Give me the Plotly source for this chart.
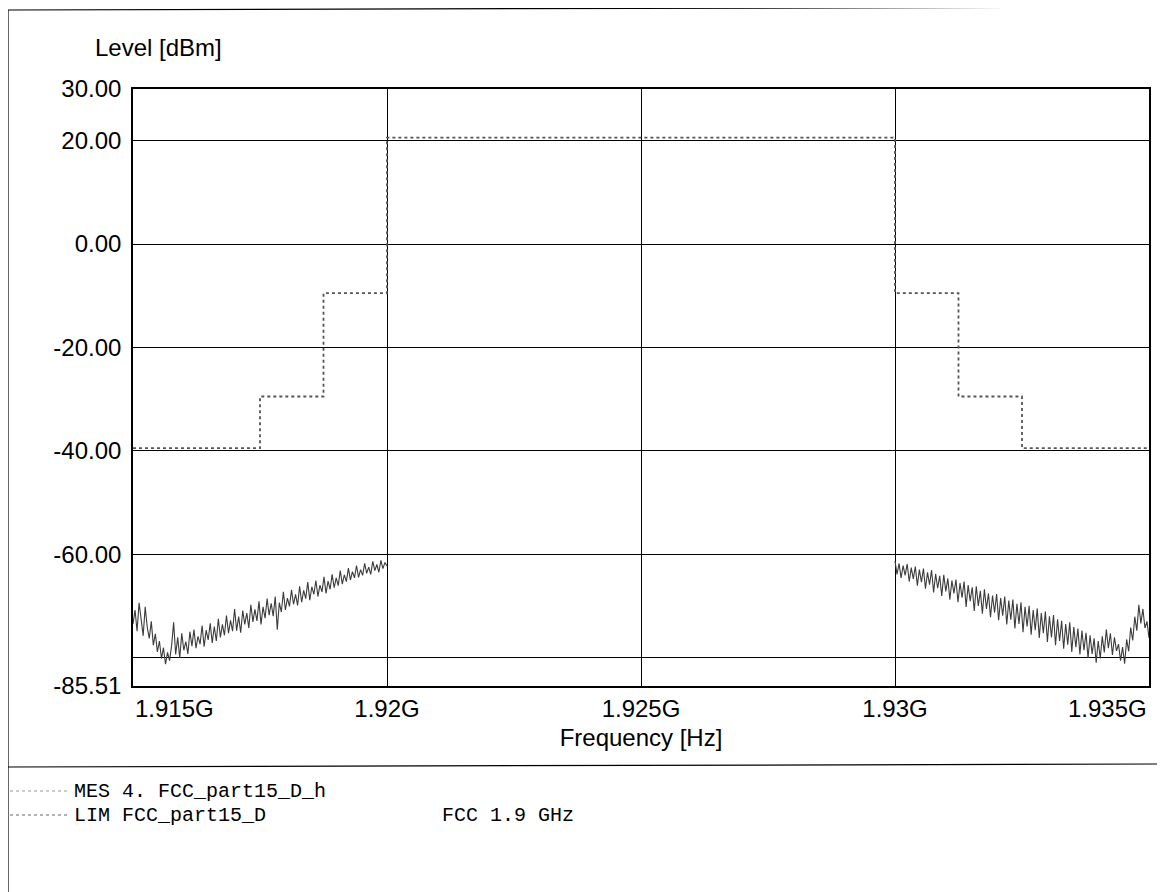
import numpy as np
import plotly.graph_objects as go

# ---------------- data ----------------
# Limit line FCC_part15_D (step function), frequencies in Hz, levels in dBm
lim_freq = [1.915e9, 1.9175e9, 1.91875e9, 1.920e9, 1.930e9, 1.93125e9, 1.9325e9, 1.935e9]
lim_level = [-39.5, -29.5, -9.5, 20.6, -9.5, -29.5, -39.5, -39.5]

# Measured trace (MES) - lower side sweep 1.915 .. 1.920 GHz
mes_low_start, mes_low_stop = 1.915e9, 1.920e9
mes_low = [
    -73.5, -70.8, -74.9, -69.4, -72.6, -75.8, -70.2, -74.1, -76.3, -73.0,
    -77.6, -75.4, -78.9, -76.8, -80.2, -78.1, -81.3, -79.0, -80.6, -77.7,
    -73.2, -79.4, -76.1, -80.1, -75.3, -78.6, -76.9, -79.3, -75.0, -77.8,
    -74.6, -78.2, -75.9, -77.4, -73.8, -77.9, -74.7, -76.6, -73.4, -77.2,
    -74.0, -76.8, -72.5, -76.1, -73.6, -75.7, -71.9, -75.3, -72.8, -74.9,
    -70.6, -74.8, -72.1, -75.2, -70.9, -73.6, -71.4, -74.3, -69.8, -73.1,
    -70.7, -72.9, -69.1, -73.6, -70.2, -72.4, -68.6, -71.8, -69.5, -72.0,
    -68.2, -74.6, -69.4, -71.2, -67.3, -70.8, -68.5, -70.1, -66.9, -69.7,
    -67.8, -69.9, -66.2, -69.3, -67.0, -68.6, -65.4, -68.9, -66.3, -67.8,
    -65.1, -68.2, -66.0, -67.3, -64.4, -67.6, -65.2, -66.8, -63.9, -66.5,
    -64.6, -66.1, -63.2, -65.8, -64.0, -65.3, -62.7, -65.0, -63.4, -64.6,
    -62.2, -64.5, -63.0, -64.1, -61.8, -63.7, -62.5, -63.9, -61.4, -63.2,
    -62.0, -63.5, -61.2, -62.8, -61.6, -62.3,
]

# Measured trace (MES) - upper side sweep 1.930 .. 1.935 GHz
mes_high_start, mes_high_stop = 1.930e9, 1.935e9
mes_high = [
    -61.3, -63.9, -61.8, -64.6, -62.2, -64.1, -61.9, -65.3, -62.6, -64.8,
    -62.4, -66.1, -63.0, -65.4, -62.8, -66.7, -63.5, -65.9, -63.1, -67.4,
    -63.8, -66.6, -64.2, -68.1, -64.0, -67.2, -64.7, -68.8, -65.1, -67.6,
    -64.9, -69.3, -65.6, -68.4, -65.3, -70.2, -66.0, -69.1, -66.4, -71.0,
    -66.2, -70.0, -67.1, -71.5, -66.8, -70.6, -67.6, -72.2, -68.0, -71.3,
    -67.7, -72.8, -68.5, -71.9, -68.2, -73.6, -69.0, -72.7, -68.8, -74.4,
    -69.6, -73.5, -69.3, -75.1, -70.2, -74.0, -70.0, -75.6, -70.8, -74.7,
    -70.5, -76.2, -71.4, -75.3, -71.1, -77.0, -72.0, -76.1, -71.8, -77.6,
    -72.6, -76.8, -72.9, -78.3, -73.5, -77.5, -73.2, -78.9, -74.1, -78.0,
    -74.4, -79.4, -74.8, -78.6, -75.2, -80.1, -75.7, -79.3, -76.3, -81.0,
    -76.8, -80.2, -75.9, -79.0, -74.6, -78.2, -75.3, -79.5, -76.1, -78.7,
    -77.4, -80.6, -78.0, -81.2, -76.5, -78.8, -74.2, -76.7, -72.1, -74.8,
    -69.8, -73.4, -70.6, -74.3, -73.0, -76.2,
]

x_tick_vals = [1.920e9, 1.925e9, 1.930e9]
x_tick_text = ["1.92G", "1.925G", "1.93G"]
x_edge_labels = [(1.915e9, "1.915G", "left"), (1.935e9, "1.935G", "right")]
y_tick_vals = [30, 20, 0, -20, -40, -60, -85.51]
y_tick_text = ["30.00", "20.00", "0.00", "-20.00", "-40.00", "-60.00", "-85.51"]
y_min, y_max = -85.51, 30.0

# sweep grids
f_low = np.linspace(mes_low_start, mes_low_stop, len(mes_low))
f_high = np.linspace(mes_high_start, mes_high_stop, len(mes_high))

# ---------------- figure ----------------
# page has an 8px body margin, so the figure is 8px smaller and shifted
OFF = 8
W, H = 1165 - OFF, 892 - OFF
PL, PR, PT, PB = 133, 1149, 89, 686          # plot area in screenshot pixels
L, T = PL - OFF, PT - OFF
R, B = W - (PR - OFF), H - (PB - OFF)
pw, ph = PR - PL, PB - PT


def px(p):
    return (p - PL) / pw


def py(q):
    return (PB - q) / ph


fig = go.Figure()

mes_style = dict(color="#3c3c3c", width=1.1)
fig.add_trace(go.Scatter(x=f_low, y=mes_low, mode="lines", line=mes_style,
                         showlegend=False, hoverinfo="skip"))
fig.add_trace(go.Scatter(x=f_high, y=mes_high, mode="lines", line=mes_style,
                         showlegend=False, hoverinfo="skip"))
fig.add_trace(go.Scatter(x=lim_freq, y=lim_level, mode="lines", line_shape="hv",
                         line=dict(color="#555555", width=1.8, dash="dot"),
                         showlegend=False, hoverinfo="skip"))

sans = "Liberation Sans, Arial, sans-serif"
mono = "Liberation Mono, Courier New, monospace"

fig.update_layout(
    width=W, height=H,
    margin=dict(l=L, r=R, t=T, b=B),
    paper_bgcolor="white", plot_bgcolor="white",
    font=dict(family=sans, size=24, color="black"),
    showlegend=False,
)
fig.update_xaxes(
    range=[1.915e9, 1.935e9],
    tickvals=x_tick_vals, ticktext=x_tick_text,
    ticks="",
    showgrid=True, gridcolor="black", gridwidth=1.3,
    showline=True, linecolor="black", linewidth=1.6, mirror=True,
    zeroline=False,
    title=dict(text="Frequency [Hz]", font=dict(size=24), standoff=9),
    tickfont=dict(size=24),
)
fig.update_yaxes(
    range=[y_min, y_max],
    tickvals=y_tick_vals, ticktext=y_tick_text,
    ticks="outside", ticklen=5, tickcolor="rgba(0,0,0,0)",
    showgrid=True, gridcolor="black", gridwidth=1.3,
    minor=dict(tickvals=[-80], showgrid=True, gridcolor="black", gridwidth=1.3, ticks=""),
    showline=True, linecolor="black", linewidth=1.6, mirror=True,
    zeroline=False,
    tickfont=dict(size=24),
)

annotations = []
for xv, txt, anc in x_edge_labels:
    annotations.append(dict(x=xv, y=0, xref="x", yref="paper", text=txt,
                            showarrow=False, xanchor=anc, yanchor="top",
                            yshift=-7, font=dict(size=24)))
annotations.append(dict(x=px(93), y=py(48), xref="paper", yref="paper",
                        text="Level [dBm]", showarrow=False, xanchor="left",
                        yanchor="middle", font=dict(size=24)))
# legend block
leg_rows = [("MES 4. FCC_part15_D_h", 791), ("LIM FCC_part15_D", 815)]
for txt, yy in leg_rows:
    annotations.append(dict(x=px(72), y=py(yy), xref="paper", yref="paper", text=txt,
                            showarrow=False, xanchor="left", yanchor="middle",
                            font=dict(family=mono, size=20)))
annotations.append(dict(x=px(440), y=py(815), xref="paper", yref="paper",
                        text="FCC 1.9 GHz", showarrow=False, xanchor="left",
                        yanchor="middle", font=dict(family=mono, size=20)))
fig.update_layout(annotations=annotations)

shapes = [
    # outer frame
    dict(type="line", xref="paper", yref="paper", x0=px(8), x1=px(8), y0=py(10), y1=py(892),
         line=dict(color="black", width=1.2)),
    dict(type="line", xref="paper", yref="paper", x0=px(8), x1=px(1165), y0=py(10), y1=py(7),
         line=dict(color="black", width=1.2)),
    dict(type="line", xref="paper", yref="paper", x0=px(8), x1=px(1165), y0=py(767), y1=py(764),
         line=dict(color="black", width=1.2)),
    # legend samples
    dict(type="line", xref="paper", yref="paper", x0=px(10), x1=px(70), y0=py(791), y1=py(791),
         line=dict(color="#999999", width=1, dash="dot")),
    dict(type="line", xref="paper", yref="paper", x0=px(10), x1=px(70), y0=py(815), y1=py(815),
         line=dict(color="#666666", width=1.2, dash="dot")),
]
fig.update_layout(shapes=shapes)

fig.write_html("out.html")
